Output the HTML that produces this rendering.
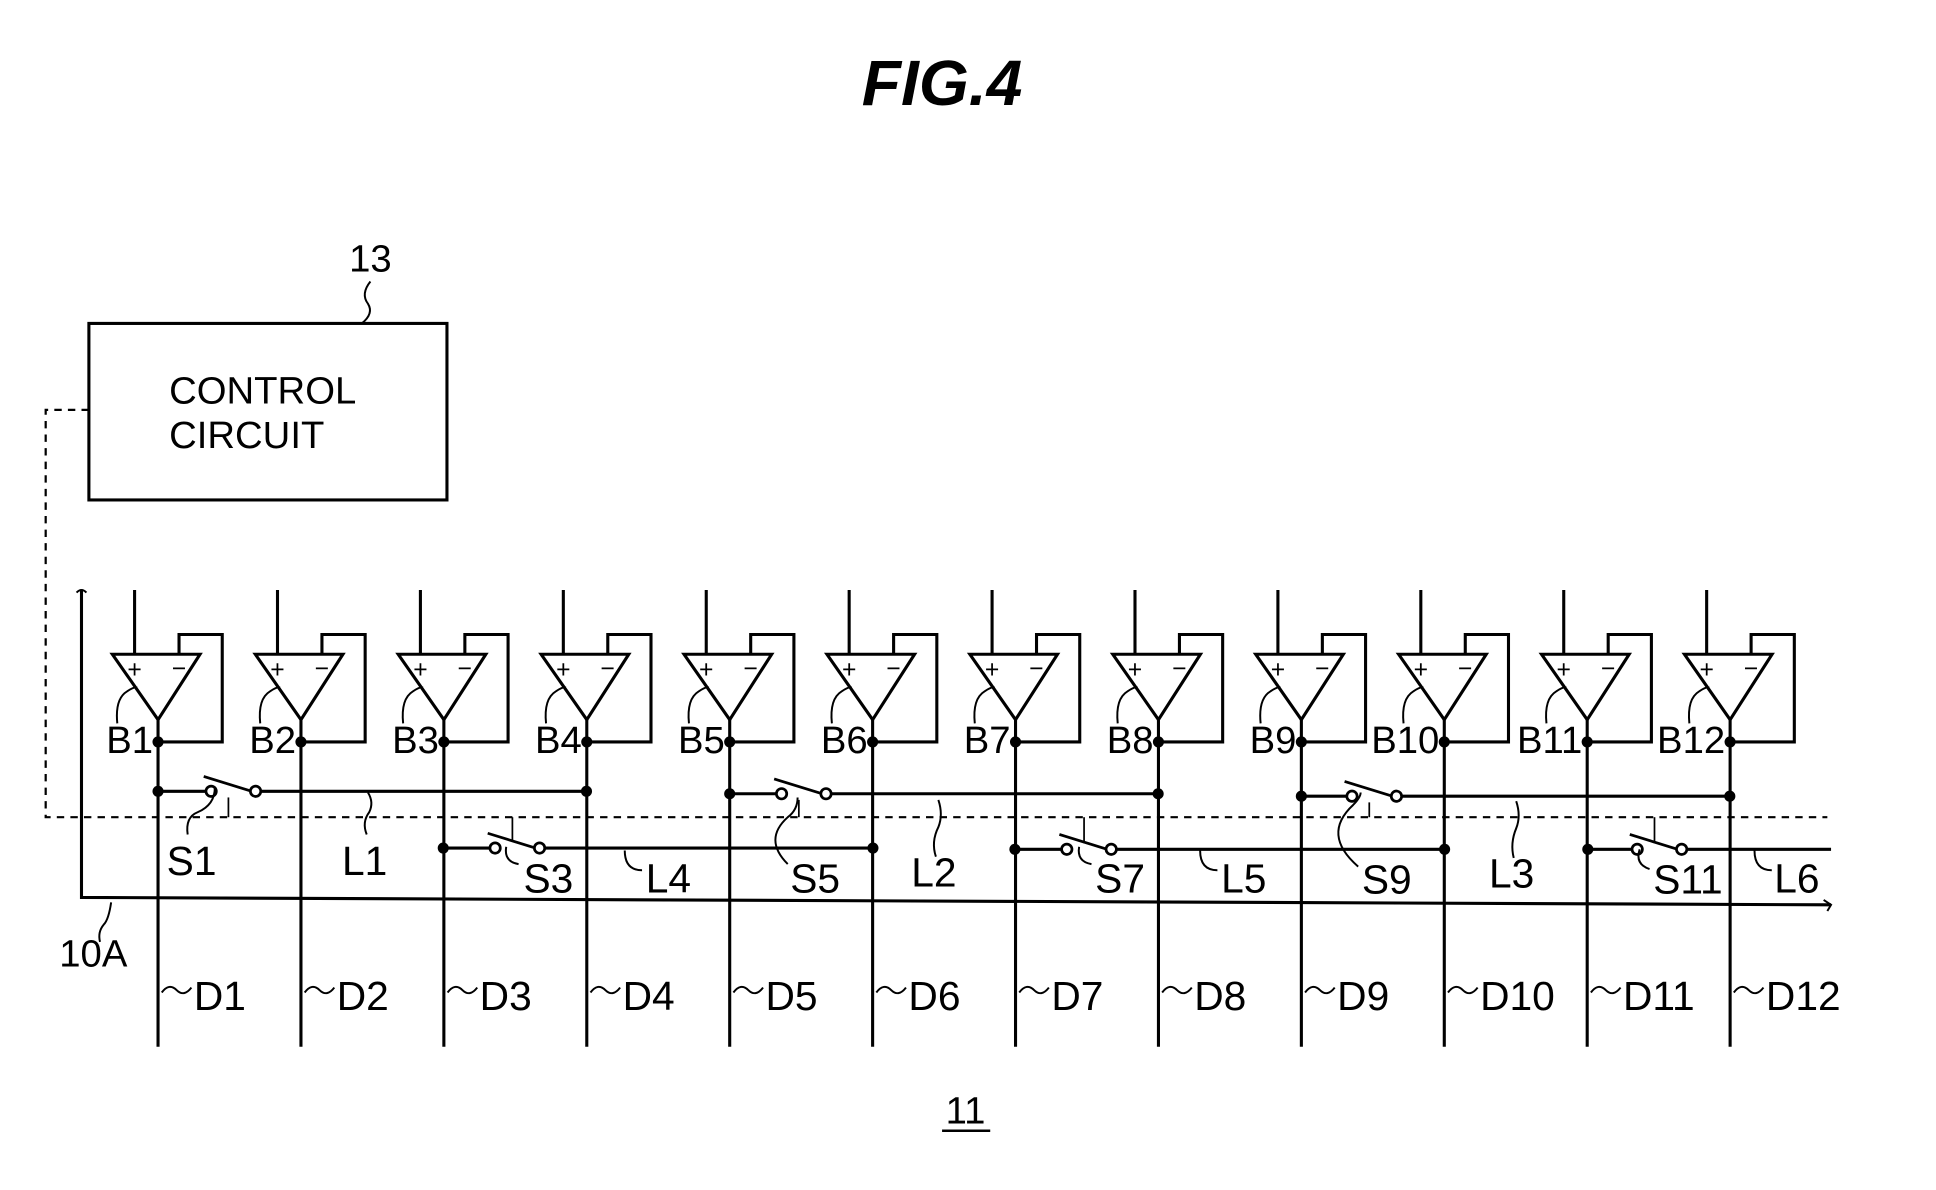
<!DOCTYPE html>
<html><head><meta charset="utf-8"><style>
html,body{margin:0;padding:0;background:#fff;}
svg{display:block;}
text{font-family:"Liberation Sans",sans-serif;fill:#000;}
</style></head><body>
<svg width="1936" height="1190" viewBox="0 0 1568 964" preserveAspectRatio="none" xmlns="http://www.w3.org/2000/svg">
<text x="763" y="85" font-size="52" font-weight="bold" font-style="italic" text-anchor="middle">FIG.4</text>
<text x="300" y="220" font-size="31" text-anchor="middle">13</text>
<path d="M300 228 q-8 10 -2 18 q5 8 -5 16" fill="none" stroke="#000" stroke-width="1.6"/>
<rect x="72" y="262" width="290" height="143" fill="none" stroke="#000" stroke-width="2.5"/>
<text x="137" y="327" font-size="31">CONTROL</text>
<text x="137" y="363" font-size="31">CIRCUIT</text>
<path d="M72 332 H37 V662 H1480" fill="none" stroke="#000" stroke-width="1.8" stroke-dasharray="6,5"/>
<path d="M66 478 V727 L1483 733" fill="none" stroke="#000" stroke-width="2.5"/>
<path d="M62 480 q4 -4 8 0 M1477 729 l6 4 l-3 5" fill="none" stroke="#000" stroke-width="1.6"/>
<text x="48" y="783" font-size="31">10A</text>
<path d="M90 731 q-2 14 -6 18 q-5 6 -3 14" fill="none" stroke="#000" stroke-width="1.6"/>
<script>
const svg=document.querySelector('svg');
const NS='http://www.w3.org/2000/svg';
function el(t,a,txt){const e=document.createElementNS(NS,t);for(const k in a)e.setAttribute(k,a[k]);if(txt!==undefined)e.textContent=txt;svg.appendChild(e);return e;}
function line(d,w){el('path',{d:d,fill:'none',stroke:'#000','stroke-width':w||2.5});}
function dot(x,y){el('circle',{cx:x,cy:y,r:4.5,fill:'#000'});}
function circ(x,y){el('circle',{cx:x,cy:y,r:4.2,fill:'#fff',stroke:'#000','stroke-width':2.2});}
const cols=[];for(let i=0;i<12;i++)cols.push(128+115.75*i);
cols.forEach((c,i)=>{
  line(`M${c-19} 478 V530`);
  line(`M${c-37} 530 H${c+34} L${c} 583 Z`);
  line(`M${c+17} 530 V514 H${c+52} V601 H${c}`);
  line(`M${c} 583 V848`);
  dot(c,601);
  el('text',{x:c-19,y:549,'font-size':20,'text-anchor':'middle'},'+');
  el('text',{x:c+17,y:548,'font-size':20,'text-anchor':'middle'},'−');
  el('text',{x:c-4,y:610,'font-size':31,'text-anchor':'end'},'B'+(i+1));
  line(`M${c-33} 586 q-2 -20 8 -26 q6 -4 ${8} -3`,1.6);
  line(`M${c+3} 804 q6 -8 12 -2 q6 6 12 -2`,1.6);
  el('text',{x:c+29,y:818,'font-size':33},'D'+(i+1));
});
function sw(x1,x2,y,xa,tickTo){
  dot(x1,y);
  line(`M${x1} ${y} H${xa-4}`);
  circ(xa,y);
  line(`M${xa-6} ${y-12} L${xa+36} ${y+1}`,2.2);
  circ(xa+36,y);
  line(`M${xa+40} ${y} H${x2}`);
  if(x2<1450)dot(x2,y);
  line(`M${xa+14} ${y+(tickTo>y?5:-5)} V${tickTo}`,1.4);
}
sw(128,475,641,171,662);
sw(591,938,643,633,662);
sw(1054,1401,645,1095,662);
sw(359,707,687,401,662);
sw(822,1170,688,864,662);
sw(1286,1483,688,1326,662);
const labs=[['S1',135,709],['L1',277,709],['S5',640,723],['L2',738,718],['S9',1103,724],['L3',1206,719],
['S3',424,723],['L4',523,723],['S7',887,723],['L5',989,723],['S11',1339,724],['L6',1437,723]];
labs.forEach(l=>el('text',{x:l[1],y:l[2],'font-size':33},l[0]));
line('M152 676 q-2 -14 8 -18 q14 -6 14 -20',1.6);
line('M297 676 q-4 -10 2 -18 q4 -8 -1 -16',1.6);
line('M638 700 q-20 -20 0 -38 q8 -6 8 -16',1.6);
line('M758 694 q-4 -12 2 -24 q4 -10 0 -22',1.6);
line('M1100 702 q-30 -26 -4 -50 q6 -6 6 -10',1.6);
line('M1226 695 q-3 -12 2 -24 q4 -10 0 -22',1.6);
line('M420 700 q-12 -2 -10 -14',1.6);
line('M520 705 q-14 0 -14 -16',1.6);
line('M884 700 q-12 -2 -10 -14',1.6);
line('M986 705 q-14 0 -14 -16',1.6);
line('M1336 704 q-12 -4 -8 -16',1.6);
line('M1435 705 q-14 0 -14 -16',1.6);
el('text',{x:782,y:910,'font-size':31,'text-anchor':'middle'},'11');
line('M763 916 H802',2);
</script>
</svg>
</body></html>
